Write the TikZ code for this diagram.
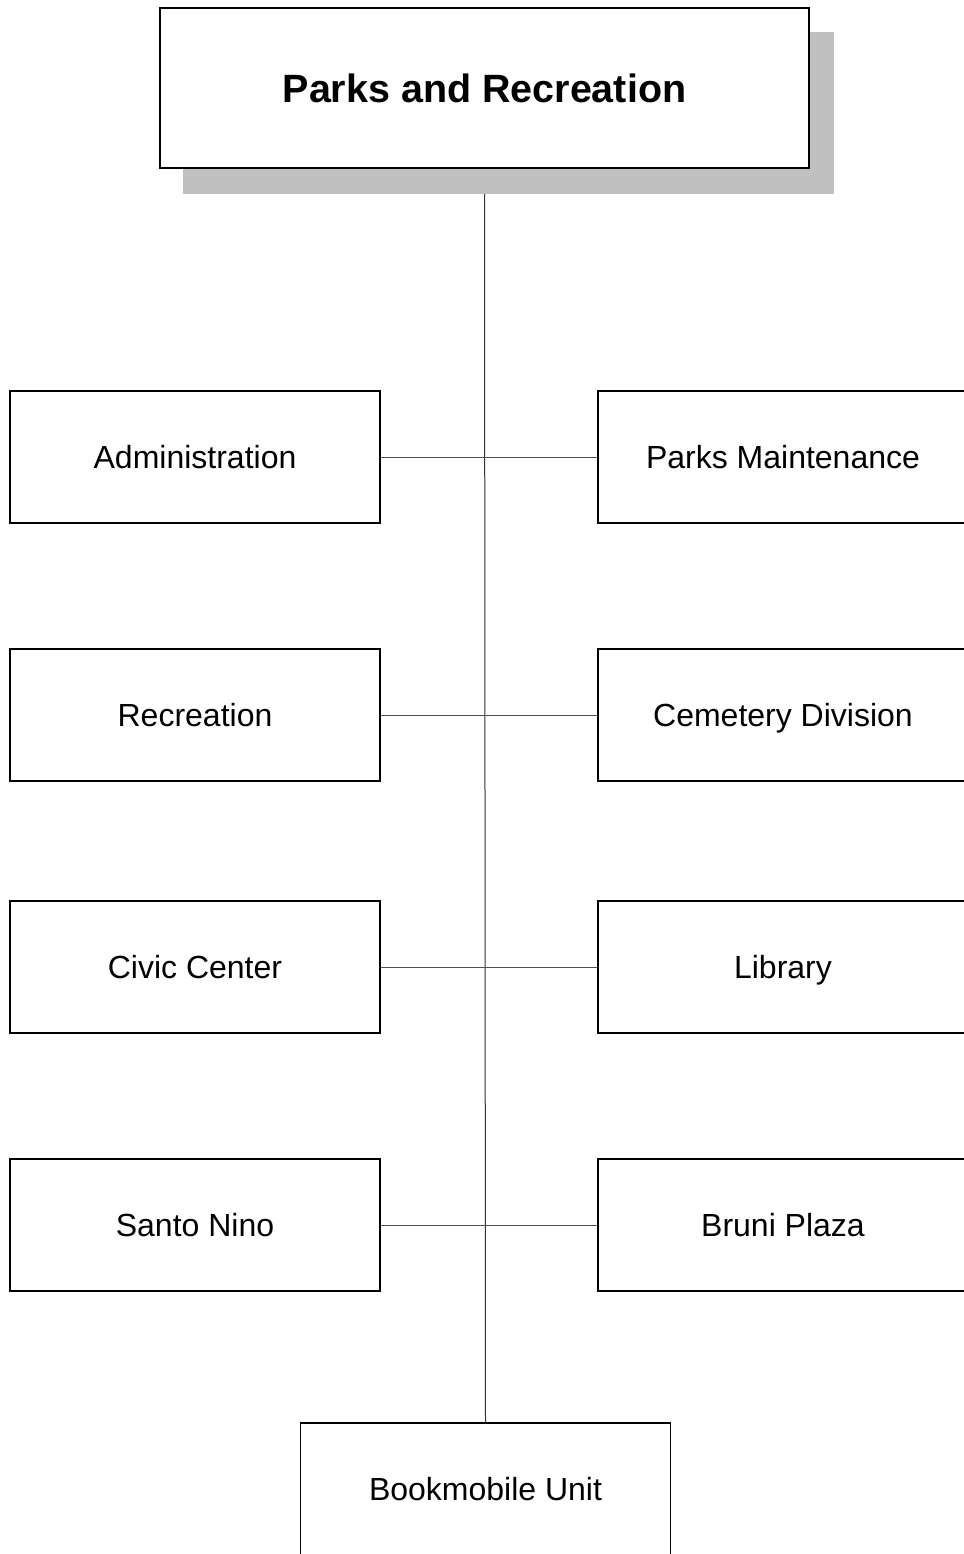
\documentclass[tikz,border=0pt]{standalone}
\usepackage{fontspec}
\setmainfont{Liberation Sans}
\usetikzlibrary{backgrounds}
\definecolor{shadowgray}{HTML}{C0C0C0}
\definecolor{linkgray}{HTML}{505050}
\begin{document}
\begin{tikzpicture}[x=0.75pt,y=-0.75pt,
  unitbox/.style={draw=black,line width=1.2pt,fill=white,inner sep=0pt,
    text height=17.2pt,text depth=0pt,
    minimum width=277.5pt,minimum height=99pt,font=\fontsize{24}{28}\selectfont},
  headbox/.style={draw=black,line width=1.2pt,fill=white,inner sep=0pt,
    text height=21.2pt,text depth=0pt,
    minimum width=486.75pt,minimum height=120pt,font=\fontsize{29.6}{34}\selectfont\bfseries},
  link/.style={draw=linkgray,line width=0.75pt}]
\useasboundingbox (0,0) rectangle (964,1554);
\clip (0,0) rectangle (964,1554);

% department head
\node[headbox] (head) at (484.5,88) {Parks and Recreation};

% divisions, left column
\node[unitbox] (adm) at (195,457) {Administration};
\node[unitbox] (rec) at (195,715) {Recreation};
\node[unitbox] (civ) at (195,967) {Civic Center};
\node[unitbox] (san) at (195,1225) {Santo Nino};

% divisions, right column
\node[unitbox] (pm)  at (783,457) {Parks Maintenance};
\node[unitbox] (cem) at (783,715) {Cemetery Division};
\node[unitbox] (lib) at (783,967) {Library};
\node[unitbox] (bru) at (783,1225) {Bruni Plaza};

% bottom unit
\node[unitbox] (book) at (485.5,1489) {Bookmobile Unit};

\begin{pgfonlayer}{background}
  % trunk line from the head down to the bottom unit
  \draw[link,draw=black!80] (head.south) -- (book.north);
  % offset shadow of the head box
  \fill[shadowgray] ([shift={(24,25)}]head.south west) rectangle ([shift={(24,25)}]head.north east);
\end{pgfonlayer}

% branches across the trunk
\draw[link] (adm.east) -- (pm.west);
\draw[link] (rec.east) -- (cem.west);
\draw[link] (civ.east) -- (lib.west);
\draw[link] (san.east) -- (bru.west);
\end{tikzpicture}
\end{document}
